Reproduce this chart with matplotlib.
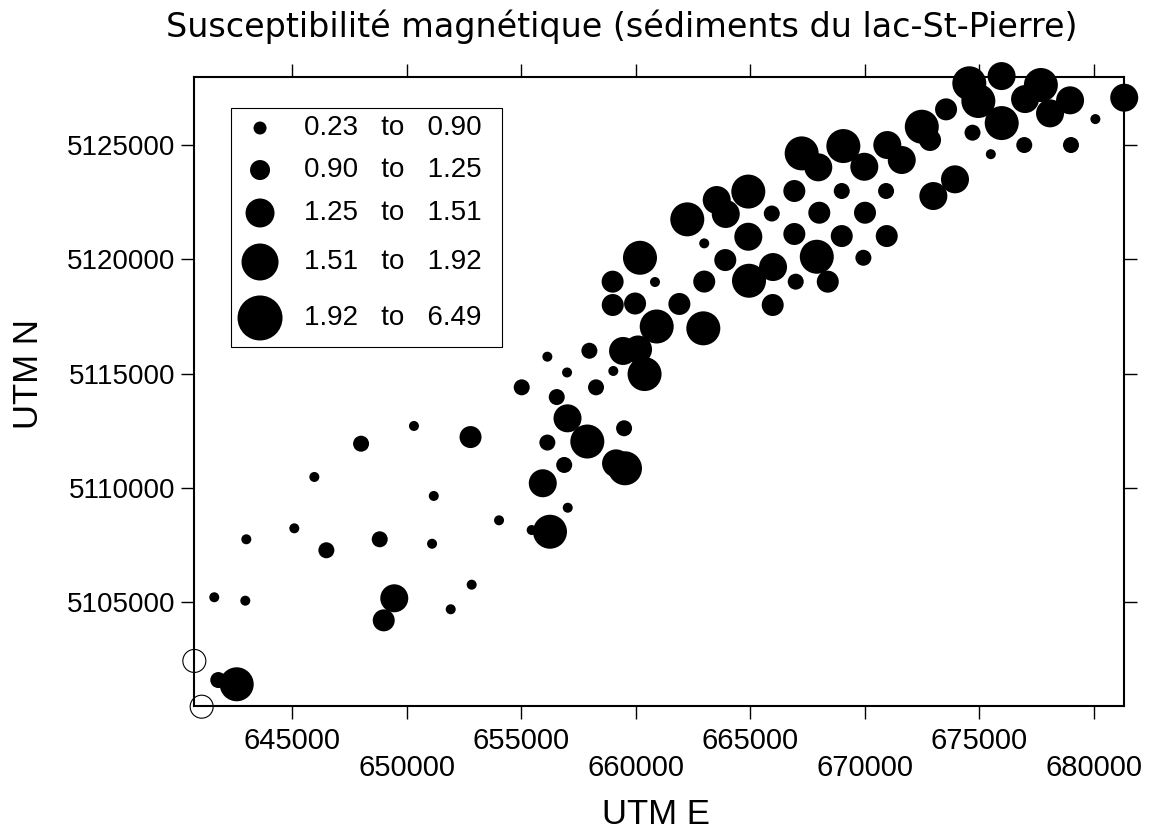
import numpy as np
import matplotlib
matplotlib.use("Agg")
import matplotlib.pyplot as plt
from matplotlib.patches import Rectangle
from matplotlib.ticker import FixedLocator, FormatStrFormatter

plt.rcParams['font.family'] = ['Liberation Sans', 'DejaVu Sans']

# sample positions (UTM, m) and susceptibility class (1..5, see bin_labels)
utm_e = np.array([
    641780, 642585, 641605, 642960, 643005, 645100, 645975, 646500, 648015, 648830,
    649005, 649465, 650325, 651115, 651190, 651930, 652795, 652845, 654040, 655030,
    655465, 656265, 655950, 656150, 656150, 656560, 656885, 657030, 657010, 657040,
    657895, 657985, 658275, 659030, 659150, 659540, 659500, 659455, 660110, 660395,
    660925, 659000, 659005, 659980, 660195, 660850, 661915, 662960, 662260, 663000,
    663000, 663545, 663940, 663920, 664925, 664925, 664955, 665950, 666005, 665990,
    666935, 666935, 666995, 667255, 667980, 668025, 667915, 668395, 669005, 669005,
    669075, 669990, 670020, 669950, 670940, 670970, 670995, 671625, 672500, 672860,
    673005, 673950, 673560, 674575, 674970, 674715, 675515, 675985, 675990, 676975,
    677010, 677700, 678100, 678975, 679015, 680080, 681340])
utm_n = np.array([
    5101605, 5101420, 5105225, 5105075, 5107760, 5108240, 5110485, 5107280, 5111940, 5107760,
    5104215, 5105180, 5112715, 5107565, 5109655, 5104700, 5112230, 5105775, 5108590, 5114405,
    5108165, 5108090, 5110210, 5115745, 5111990, 5113980, 5111010, 5113050, 5115055, 5109140,
    5112035, 5116005, 5114405, 5115120, 5111080, 5110865, 5112615, 5115995, 5116060, 5114985,
    5117065, 5119025, 5118005, 5118070, 5120070, 5119010, 5118050, 5116985, 5121750, 5120700,
    5119030, 5122595, 5121985, 5119970, 5122965, 5120990, 5119065, 5122005, 5119665, 5118005,
    5122990, 5121110, 5119025, 5124635, 5124025, 5122040, 5120115, 5119025, 5122990, 5121020,
    5124955, 5124050, 5122040, 5120070, 5122990, 5121020, 5125000, 5124345, 5125800, 5125220,
    5122770, 5123500, 5126560, 5127700, 5126925, 5125540, 5124600, 5128015, 5125960, 5125000,
    5127010, 5127625, 5126385, 5126955, 5125000, 5126135, 5127070])
size_class = np.array([
    2, 5, 1, 1, 1, 1, 1, 2, 2, 2,
    3, 4, 1, 1, 1, 1, 3, 1, 1, 2,
    1, 5, 4, 1, 2, 2, 2, 4, 1, 1,
    5, 2, 2, 1, 4, 5, 2, 4, 4, 5,
    5, 3, 3, 3, 5, 1, 3, 5, 5, 1,
    3, 4, 4, 3, 5, 4, 5, 2, 4, 3,
    3, 3, 2, 5, 4, 3, 5, 3, 2, 3,
    5, 4, 3, 2, 2, 3, 4, 4, 5, 3,
    4, 4, 3, 5, 5, 2, 1, 4, 5, 2,
    4, 5, 4, 4, 2, 1, 4])

# open circles in the lower-left corner
open_e = [640735, 641055]
open_n = [5102440, 5100440]

bin_labels = ["0.23   to   0.90", "0.90   to   1.25", "1.25   to   1.51",
              "1.51   to   1.92", "1.92   to   6.49"]

x_ticks_upper = [645000, 655000, 665000, 675000]
x_ticks_lower = [650000, 660000, 670000, 680000]
y_ticks = [5105000, 5110000, 5115000, 5120000, 5125000]

# marker diameters in pixels (figure at 100 dpi)
marker_px = np.array([10, 16, 22, 28, 34])
legend_px = np.array([13, 20, 29, 37, 45])
PT = 0.72

fig = plt.figure(figsize=(11.49, 8.40), dpi=100)
ax = fig.add_axes([194 / 1149, 1 - 706 / 840, 930 / 1149, 629 / 840])

ax.scatter(utm_e, utm_n, s=(marker_px[size_class - 1] * PT) ** 2,
           c='black', edgecolors='none', clip_on=False, zorder=3)
ax.scatter(open_e, open_n, s=(23 * PT) ** 2, facecolors='none',
           edgecolors='black', linewidths=0.8, clip_on=False, zorder=3)

ax.set_xlim(640720, 681330)
ax.set_ylim(5100470, 5127975)

# staggered x labels: major ticks upper row, minor ticks lower row
ax.xaxis.set_major_locator(FixedLocator(x_ticks_upper))
ax.xaxis.set_minor_locator(FixedLocator(x_ticks_lower))
ax.xaxis.set_major_formatter(FormatStrFormatter('%d'))
ax.xaxis.set_minor_formatter(FormatStrFormatter('%d'))
ax.tick_params(axis='x', which='both', direction='out', length=9.4, width=1,
               top=True, labelsize=21)
ax.tick_params(axis='x', which='major', pad=5.5)
ax.tick_params(axis='x', which='minor', pad=25.5)

ax.set_yticks(y_ticks)
ax.yaxis.set_major_formatter(FormatStrFormatter('%d'))
ax.tick_params(axis='y', direction='out', length=9.4, width=1, right=True,
               labelsize=20, pad=4)

for sp in ax.spines.values():
    sp.set_linewidth(1.5)

# legend drawn by hand
ax.add_patch(Rectangle((0.0398, 0.5707), 0.2914, 0.38, transform=ax.transAxes,
                       fill=False, lw=0.8, ec='black', zorder=4))
rows_y = [0.9189, 0.8521, 0.7838, 0.7059, 0.6169]
for y, d, lab in zip(rows_y, legend_px, bin_labels):
    ax.scatter([0.0710], [y], s=(d * PT) ** 2, c='black', edgecolors='none',
               transform=ax.transAxes, clip_on=False, zorder=4)
    ax.text(0.1183, y, lab, transform=ax.transAxes, ha='left', va='center',
            fontsize=20)

fig.text(0.541, 1 - 9 / 840, "Susceptibilité magnétique (sédiments du lac-St-Pierre)",
         ha='center', va='top', fontsize=24, family=['DejaVu Sans'])
fig.text(656 / 1149, 1 - 815 / 840, "UTM E", ha='center', va='center',
         fontsize=25, family=['Liberation Sans Narrow', 'Liberation Sans'])
fig.text(29 / 1149, 1 - 374 / 840, "UTM N", ha='center', va='center', rotation=90,
         fontsize=25, family=['Liberation Sans Narrow', 'Liberation Sans'])

fig.savefig("out.png", dpi=100)
